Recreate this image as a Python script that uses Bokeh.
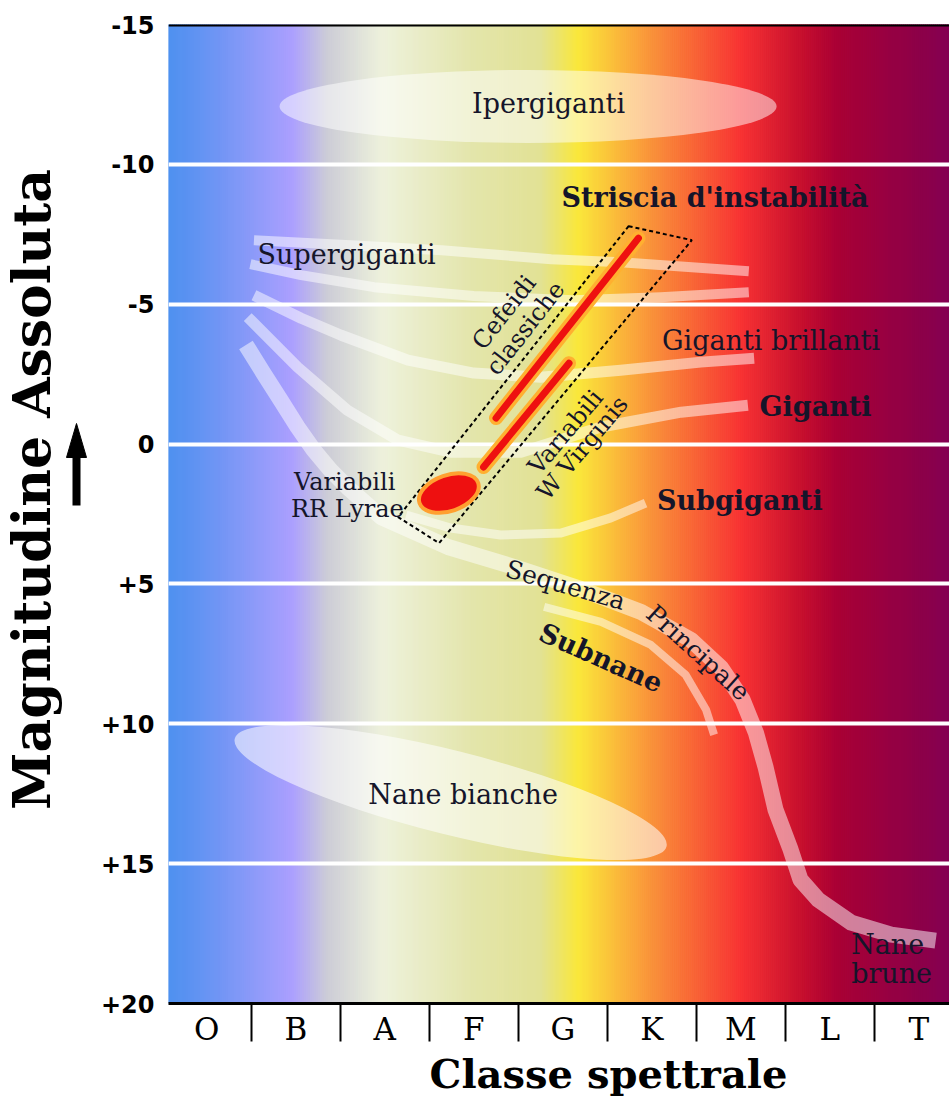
import numpy as np
from bokeh.plotting import figure
from bokeh.layouts import row, column
from bokeh.models import Range1d, FixedTicker, Span
from bokeh.core.properties import value
from bokeh.embed import file_html
from bokeh.resources import INLINE

# ---------------- data ----------------
spectral_classes = ["O", "B", "A", "F", "G", "K", "M", "L", "T"]
class_pos = [0, 1, 2, 3, 4, 5, 6, 7, 8]
class_bounds = [0.5, 1.5, 2.5, 3.5, 4.5, 5.5, 6.5, 7.5]
mag_ticks = [-15, -10, -5, 0, 5, 10, 15, 20]
mag_labels = ["-15", "-10", "-5", "0", "+5", "+10", "+15", "+20"]
grid_mags = [-10, -5, 0, 5, 10, 15]

# luminosity-class sequences: (spectral index, absolute magnitude)
supergiants_a_x = [0.53, 1.62, 2.64, 3.87, 4.65, 6.09]
supergiants_a_y = [-7.29, -7.11, -6.93, -6.61, -6.50, -6.18]
supergiants_b_x = [0.49, 1.06, 1.88, 3.00, 4.12, 5.10, 6.09]
supergiants_b_y = [-6.43, -6.04, -5.61, -5.29, -5.14, -5.25, -5.43]
bright_giants_x = [0.53, 1.06, 1.51, 2.26, 3.00, 3.75, 4.65, 5.55, 6.15]
bright_giants_y = [-5.32, -4.50, -3.89, -3.00, -2.54, -2.39, -2.64, -2.93, -3.07]
giants_x = [0.46, 1.02, 1.58, 2.15, 2.74, 3.53, 4.43, 5.33, 6.08]
giants_y = [-4.54, -2.75, -1.21, -0.14, 0.29, 0.29, -0.61, -1.14, -1.39]
subgiants_x = [2.24, 2.74, 3.30, 3.98, 4.54, 4.93]
subgiants_y = [2.54, 3.00, 3.25, 3.18, 2.64, 2.11]
main_seq_x = [0.44, 0.63, 0.83, 1.02, 1.20, 1.39, 1.58, 1.96, 2.71, 3.45, 4.20, 4.88,
              5.44, 5.78, 6.02, 6.17, 6.28, 6.39, 6.56, 6.67, 6.87, 7.24, 7.69, 8.19]
main_seq_y = [-3.54, -2.57, -1.57, -0.61, 0.21, 0.93, 1.54, 2.61, 3.68, 4.39, 5.18, 6.00,
              7.00, 8.00, 9.14, 10.32, 11.57, 13.07, 14.50, 15.57, 16.29, 17.11, 17.54, 17.75]
subdwarfs_x = [3.79, 4.43, 4.99, 5.38, 5.61, 5.70]
subdwarfs_y = [5.82, 6.36, 7.18, 8.25, 9.50, 10.39]

# regions
hypergiants_center = (3.61, -12.07)
white_dwarfs_center = (2.74, 12.46)
instability_strip_x = [4.74, 5.45, 2.61, 2.15]
instability_strip_y = [-7.79, -7.29, 3.54, 2.61]
cepheids_x = [4.85, 3.25]
cepheids_y = [-7.36, -0.93]
w_virginis_x = [4.07, 3.11]
w_virginis_y = [-2.89, 0.82]
rr_lyrae_center = (2.72, 1.75)

# axis titles
y_title = "Magnitudine Assoluta"
x_title = "Classe spettrale"

# background spectral colour ramp (stops)
grad_x = [-0.43, 0.16, 0.97, 1.36, 1.98, 2.97, 3.75, 4.18, 4.94, 6.01, 6.67, 7.12, 8.35]
grad_rgb = [(78, 145, 240), (115, 150, 245), (172, 160, 255), (205, 205, 215), (238, 242, 220),
            (228, 230, 172), (226, 226, 150), (250, 232, 58), (250, 152, 58), (248, 50, 50),
            (200, 16, 46), (168, 0, 54), (132, 0, 82)]


def bare(w, h, xr, yr):
    fig = figure(width=w, height=h, output_backend="svg", toolbar_location=None,
                 x_range=xr, y_range=yr, min_border=0, title=None,
                 x_axis_location=None, y_axis_location=None)
    fig.grid.visible = False
    fig.outline_line_color = None
    fig.background_fill_color = "white"
    fig.border_fill_color = "white"
    return fig


LEFT_W = 90
FRAME_L, FRAME_T, FRAME_B = 168, 24, 1003
BOTTOM_BORDER = 46
P_H = FRAME_B + BOTTOM_BORDER

# ---------------- main figure ----------------
X0, X1 = -0.43, 8.345
p = figure(width=949 - LEFT_W, height=P_H, output_backend="svg", toolbar_location=None,
           x_range=Range1d(X0, X1), y_range=Range1d(20, -15),
           min_border_left=FRAME_L - LEFT_W, min_border_right=0, min_border_top=FRAME_T,
           min_border_bottom=BOTTOM_BORDER)
p.outline_line_color = None
p.background_fill_color = "white"
p.border_fill_color = "white"

# gradient background
n = 390
edges = np.linspace(X0, X1, n + 1)
cent = (edges[:-1] + edges[1:]) / 2
gx = np.array(grad_x)
rgb = np.array(grad_rgb, dtype=float)
cols = ["#%02x%02x%02x" % (int(np.interp(c, gx, rgb[:, 0])), int(np.interp(c, gx, rgb[:, 1])),
                           int(np.interp(c, gx, rgb[:, 2]))) for c in cent]
p.quad(left=edges[:-1], right=edges[1:], top=-15, bottom=20, fill_color=cols, line_color=cols,
       line_width=1, level="image")

# grid
p.xgrid.visible = False
p.ygrid.ticker = FixedTicker(ticks=grid_mags)
p.ygrid.grid_line_color = "white"
p.ygrid.grid_line_width = 4
p.ygrid.grid_line_alpha = 1.0

# axes
p.yaxis.ticker = FixedTicker(ticks=mag_ticks)
p.yaxis.major_label_overrides = {t: l for t, l in zip(mag_ticks, mag_labels)}
p.yaxis.axis_line_color = None
p.yaxis.major_tick_line_color = None
p.yaxis.minor_tick_line_color = None
p.yaxis.major_label_text_font = "DejaVu Sans"
p.yaxis.major_label_text_font_style = "bold"
p.yaxis.major_label_text_font_size = "24px"
p.yaxis.major_label_text_color = "black"
p.yaxis.major_label_standoff = 8

p.xaxis.ticker = FixedTicker(ticks=class_pos, minor_ticks=class_bounds)
p.xaxis.major_label_overrides = {t: l for t, l in zip(class_pos, spectral_classes)}
p.xaxis.axis_line_width = 3
p.xaxis.axis_line_color = "black"
p.xaxis.major_tick_line_color = None
p.xaxis.minor_tick_line_color = "black"
p.xaxis.minor_tick_line_width = 2
p.xaxis.minor_tick_out = 38
p.xaxis.minor_tick_in = 0
p.xaxis.major_label_text_font = "DejaVu Serif"
p.xaxis.major_label_text_font_size = "31px"
p.xaxis.major_label_text_color = "black"
p.xaxis.major_label_standoff = -31

p.add_layout(Span(location=-15, dimension="width", line_color="black", line_width=4))

# regions (translucent)
p.ellipse(x=[hypergiants_center[0]], y=[hypergiants_center[1]], width=497, height=73,
          width_units="screen", height_units="screen", fill_color="white", fill_alpha=0.5,
          line_color=None)
p.ellipse(x=[white_dwarfs_center[0]], y=[white_dwarfs_center[1]], width=445, height=84,
          width_units="screen", height_units="screen", angle=-14, angle_units="deg",
          fill_color="white", fill_alpha=0.55, line_color=None)

band = dict(line_color="white", line_alpha=0.5, line_join="round", line_cap="butt")
p.line(supergiants_a_x, supergiants_a_y, line_width=10, **band)
p.line(supergiants_b_x, supergiants_b_y, line_width=10, **band)
p.line(bright_giants_x, bright_giants_y, line_width=11, **band)
p.line(giants_x, giants_y, line_width=11, **band)
p.line(subgiants_x, subgiants_y, line_width=9, **band)
p.line(main_seq_x, main_seq_y, line_width=16, **band)
p.line(subdwarfs_x, subdwarfs_y, line_width=8, **band)

# instability strip
p.patch(instability_strip_x, instability_strip_y, fill_alpha=0, line_color="black",
        line_width=2, line_dash="4 3")
for xs, ys in ((cepheids_x, cepheids_y), (w_virginis_x, w_virginis_y)):
    p.line(xs, ys, line_width=14, line_color="#ffb030", line_cap="round")
    p.line(xs, ys, line_width=7, line_color="#ee1010", line_cap="round")
p.ellipse(x=[rr_lyrae_center[0]], y=[rr_lyrae_center[1]], width=62, height=36,
          width_units="screen", height_units="screen", angle=19, angle_units="deg",
          fill_color="#ee1010", line_color="#ffa030", line_width=4)

# texts
TXT = "#15152a"
serif = value("DejaVu Serif")
p.text(x=[3.84, 6.34, 2.88], y=[-12.18, -3.71, 12.54],
       text=["Ipergiganti", "Giganti brillanti", "Nane bianche"],
       text_font=serif, text_font_size="27px", text_color=TXT,
       text_align="center", text_baseline="middle")
p.text(x=[0.57, 7.24, 7.24], y=[-6.79, 17.89, 18.93], text=["Supergiganti", "Nane", "brune"],
       text_font=serif, text_font_size="27px", text_color=TXT,
       text_align="left", text_baseline="middle")
p.text(x=[5.71, 6.84, 5.99], y=[-8.82, -1.36, 2.0],
       text=["Striscia d'instabilità", "Giganti", "Subgiganti"],
       text_font=serif, text_font_size="27px", text_font_style="bold", text_color=TXT,
       text_align="center", text_baseline="middle")
p.text(x=[1.55, 1.58], y=[1.36, 2.32], text=["Variabili", "RR Lyrae"],
       text_font=serif, text_font_size="24px", text_color=TXT,
       text_align="center", text_baseline="middle")
p.text(x=[3.34, 3.58, 4.03, 4.22], y=[-4.71, -4.14, -0.43, 0.14],
       text=["Cefeidi", "classiche", "Variabili", "W Virginis"],
       angle=[52, 52, 50, 50], angle_units="deg",
       text_font=serif, text_font_size="24px", text_color=TXT,
       text_align="center", text_baseline="middle")
p.text(x=[4.03, 5.52], y=[5.04, 7.46], text=["Sequenza", "Principale"],
       angle=[-16, -42], angle_units="deg",
       text_font=serif, text_font_size="25px", text_color=TXT,
       text_align="center", text_baseline="middle")
p.text(x=[4.43], y=[7.64], text=["Subnane"], angle=[-24], angle_units="deg",
       text_font=serif, text_font_size="27px", text_font_style="bold", text_color=TXT,
       text_align="center", text_baseline="middle")

# ---------------- left strip: y title and arrow (pixel space) ----------------
left = bare(LEFT_W, 1097, Range1d(0, LEFT_W), Range1d(1097, 0))
left.text(x=[31], y=[489], text=[y_title], angle=[90], angle_units="deg",
          text_font=serif, text_font_style="bold", text_font_size="52px", text_color="black",
          text_align="center", text_baseline="middle")
left.segment(x0=[76], y0=[505], x1=[76], y1=[450], line_width=8, line_color="black")
left.patch(x=[66, 86, 76], y=[457, 457, 423], fill_color="black", line_color="black")

# ---------------- bottom strip: x title (page pixel space; frame aligns with main frame) ----
BOT_H = 1097 - P_H
bottom = bare(949 - LEFT_W, BOT_H, Range1d(FRAME_L, 949), Range1d(BOT_H, 0))
bottom.text(x=[608], y=[1073 - P_H], text=[x_title], text_font=serif, text_font_style="bold",
            text_font_size="40px", text_color="black", text_align="center",
            text_baseline="middle")

layout = row(left, column(p, bottom, spacing=0), spacing=0)
open("out.html", "w").write(file_html(layout, INLINE))
